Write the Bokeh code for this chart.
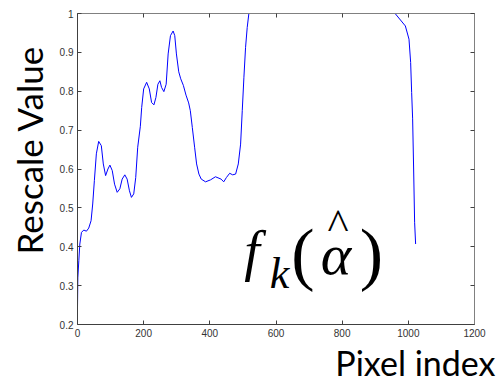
import math
from bokeh.plotting import figure
from bokeh.models import Label, LinearAxis, FixedTicker, Range1d, Title
from bokeh.embed import file_html
from bokeh.resources import INLINE

# ---- data ----
pixel_index = [0, 1, 4, 7, 12, 19, 27, 34, 41, 46, 51, 57, 64, 72, 78, 85, 92, 98,
               105, 112, 120, 128, 135, 143, 150, 157, 163, 170, 176, 182, 190, 194,
               200, 209, 217, 224, 231, 237, 243, 249, 254, 261, 268, 274, 281, 289,
               294, 299, 306, 312, 320, 328, 336, 341, 347, 354, 360, 367, 374, 387,
               402, 417, 434, 442, 450, 460, 469, 478, 486, 493, 498, 503, 508, 513,
               518, 525, 560, 700, 850, 960, 991, 1002, 1007, 1010, 1013, 1016, 1019,
               1022, 1024]
rescale_value = [0.244, 0.32, 0.364, 0.407, 0.437, 0.443, 0.44, 0.448, 0.467, 0.51,
                 0.57, 0.639, 0.671, 0.66, 0.613, 0.583, 0.6, 0.61, 0.596, 0.561,
                 0.54, 0.549, 0.574, 0.585, 0.574, 0.544, 0.527, 0.536, 0.578, 0.656,
                 0.71, 0.758, 0.806, 0.823, 0.806, 0.771, 0.765, 0.784, 0.818, 0.827,
                 0.81, 0.799, 0.818, 0.896, 0.943, 0.955, 0.943, 0.896, 0.85, 0.832,
                 0.815, 0.79, 0.77, 0.75, 0.707, 0.656, 0.613, 0.587, 0.574, 0.567,
                 0.572, 0.58, 0.574, 0.567, 0.578, 0.589, 0.585, 0.587, 0.613, 0.664,
                 0.75, 0.836, 0.913, 0.964, 1.0, 1.08, 1.15, 1.15, 1.08, 1.0, 0.968,
                 0.934, 0.874, 0.797, 0.729, 0.6, 0.463, 0.407]

x_ticks = [0, 200, 400, 600, 800, 1000, 1200]
x_tick_labels = ["0", "200", "400", "600", "800", "1000", "1200"]
y_ticks = [0.2, 0.3, 0.4, 0.5, 0.6, 0.7, 0.8, 0.9, 1.0]
y_tick_labels = ["0.2", "0.3", "0.4", "0.5", "0.6", "0.7", "0.8", "0.9", "1"]
x_title = "Pixel index"
y_title = "Rescale Value"

p = figure(frame_width=397, frame_height=311,
           min_border_left=77, min_border_right=24,
           min_border_top=13, min_border_bottom=55,
           x_range=Range1d(0, 1200), y_range=Range1d(0.2, 1.0),
           output_backend="svg", toolbar_location=None,
           background_fill_color="white", border_fill_color="white")
p.outline_line_color = None
p.grid.visible = False

p.line(pixel_index, rescale_value, line_color="#0000ff", line_width=1)

tick_font = "Liberation Sans"
xa = p.xaxis[0]
xa.ticker = FixedTicker(ticks=x_ticks)
xa.major_label_overrides = dict(zip(x_ticks, x_tick_labels))
ya = p.yaxis[0]
ya.ticker = FixedTicker(ticks=y_ticks)
ya.major_label_overrides = dict(zip(y_ticks, y_tick_labels))
for ax in (xa, ya):
    ax.axis_line_color = "#404040"
    ax.major_tick_line_color = "#404040"
    ax.major_tick_in = 4
    ax.major_tick_out = 0
    ax.minor_tick_line_color = None
    ax.major_label_text_font = tick_font
    ax.major_label_text_font_size = "10px"
    ax.major_label_text_color = "#333333"
    ax.major_label_standoff = 4

top = LinearAxis(ticker=FixedTicker(ticks=x_ticks))
right = LinearAxis(ticker=FixedTicker(ticks=y_ticks))
for ax in (top, right):
    ax.axis_line_color = "#808080"
    ax.major_tick_line_color = "#404040"
    ax.major_tick_in = 4
    ax.major_tick_out = 0
    ax.minor_tick_line_color = None
    ax.major_label_text_color = None
    ax.major_label_text_font_size = "8px"
    ax.major_label_standoff = 0
p.add_layout(top, "above")
p.add_layout(right, "right")

# axis titles as plot titles
p.add_layout(Title(text=y_title, align="left", offset=70, standoff=10,
                   vertical_align="top",
                   text_font="Lato", text_font_size="35px",
                   text_font_style="normal", text_color="black"), "left")
p.add_layout(Title(text=x_title, align="right", offset=-21, standoff=0,
                   text_font="Lato", text_font_size="34px",
                   text_font_style="normal", text_color="black"), "below")

def dx(px):
    return (px - 77) / 397 * 1200

def dy(py):
    return 1 - (py - 13) / 311 * 0.8

serif = "Liberation Serif"
ink = "black"
p.add_layout(Label(x=dx(251.5), y=dy(250), text="f", text_align="center",
                   text_baseline="alphabetic", text_font=serif, text_color=ink,
                   text_font_style="italic", text_font_size="56px"))
p.add_layout(Label(x=dx(279), y=dy(273), text="k", text_align="center",
                   text_baseline="alphabetic", text_font=serif, text_color=ink,
                   text_font_style="italic", text_font_size="44px"))
p.add_layout(Label(x=dx(302.5), y=dy(252.6), text="(", text_align="center",
                   text_baseline="alphabetic", text_font=serif, text_color=ink,
                   text_font_size="70px"))
p.add_layout(Label(x=dx(335.5), y=dy(254), text="α", text_align="center",
                   text_baseline="alphabetic", text_font=serif, text_color=ink,
                   text_font_style="italic", text_font_size="58px"))
p.add_layout(Label(x=dx(337.5), y=dy(223), text="^", text_align="center",
                   text_baseline="alphabetic", text_font=serif, text_color=ink,
                   text_font_size="45px"))
p.add_layout(Label(x=dx(371), y=dy(252.6), text=")", text_align="center",
                   text_baseline="alphabetic", text_font=serif, text_color=ink,
                   text_font_size="70px"))

open("out.html", "w").write(file_html(p, INLINE))
